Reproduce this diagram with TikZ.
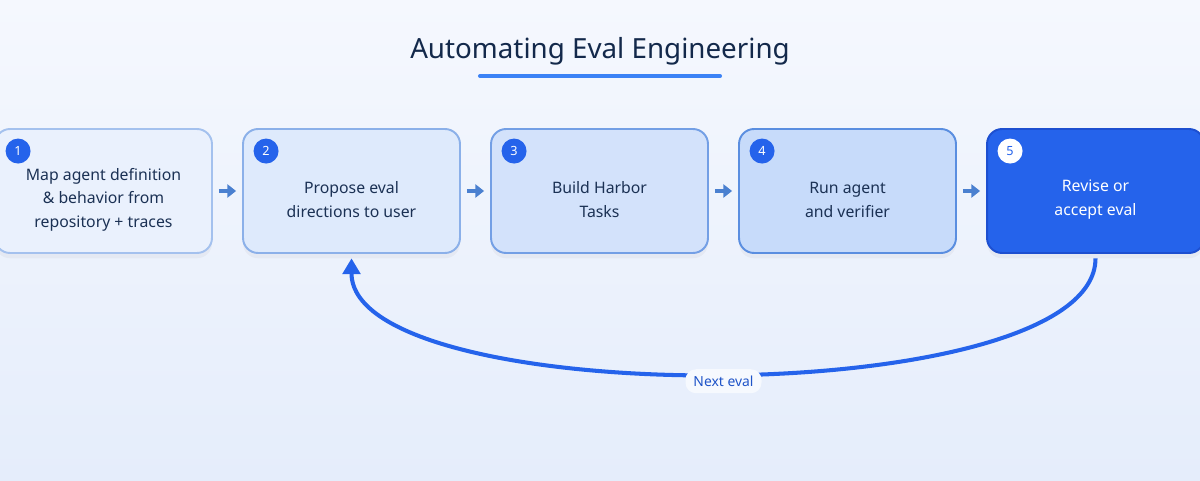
\documentclass[tikz,border=0pt]{standalone}
\usepackage{fontspec}
\setmainfont{Noto Sans}
\usetikzlibrary{calc,shadows,arrows.meta}

\definecolor{bgtop}{HTML}{F5F8FE}
\definecolor{bgbot}{HTML}{E5EDFB}
\definecolor{titleink}{HTML}{13294B}
\definecolor{inkdark}{HTML}{1B3154}
\definecolor{accent}{HTML}{2563EB}
\definecolor{accentdark}{HTML}{1D4FD0}
\definecolor{underline}{HTML}{3B82F6}
\definecolor{paleblue}{HTML}{BBD3F9}
\definecolor{edgeblue}{HTML}{5A8EE0}
\definecolor{linkblue}{HTML}{4A80D0}

\begin{document}
\begin{tikzpicture}[x=0.02cm,y=-0.02cm,
    stepbox/.style={draw, line width=1.1pt, rounded corners=0.3cm,
        minimum width=4.34cm, minimum height=2.48cm,
        drop shadow={opacity=0.07,shadow xshift=0pt,shadow yshift=-3pt}},
    steptext/.style={align=center, font=\fontsize{9.0}{13.6}\selectfont},
    badge/.style={circle, inner sep=0pt, minimum size=0.5cm, font=\fontsize{7.2}{7.2}\selectfont},
    linkarrow/.style={-{Triangle[length=5pt,width=7.5pt]}, line width=2.6pt, linkblue, shorten <=3.4pt, shorten >=3.4pt},
    looparrow/.style={-{Triangle[length=9pt,width=10pt]}, line width=2.3pt, accent, shorten <=2.5pt, shorten >=2.5pt}]
    % background and frame
    \shade[top color=bgtop, bottom color=bgbot] (0,0) rectangle (1200,480);
    \useasboundingbox (0,0) rectangle (1200,480);

    \node[font=\fontsize{15.8}{19}\selectfont, text=titleink] (title) at (600,51) {Automating Eval Engineering};
    \coordinate (ulineL) at (480,76);
    \coordinate (ulineR) at (720,76);
    \draw[underline, line width=2.3pt, line cap=round] (ulineL) -- (ulineR);

    \foreach \txt[count=\i] in {{Map agent definition\\ \& behavior from\\ repository + traces},
                               {Propose eval\\ directions to user},
                               {Build Harbor\\ Tasks},
                               {Run agent\\ and verifier},
                               {Revise or\\ accept eval}}{
        \pgfmathsetmacro\colper{14+17*\i} % fill percentage
        \pgfmathsetmacro\edgeper{40+15*\i} % border percentage
        \pgfmathsetmacro\xpos{103.5+248*(\i-1)}
        \ifnum\i=5
            \node[stepbox, fill=accent, draw=accentdark,
                  label={[steptext, text=white, yshift=-5pt]center:\txt}] (step\i) at (\xpos,191) {};
            \node[badge, fill=white, text=accent] (badge\i) at ($(step\i.north west)+(24,23)$) {\i};
        \else
            \node[stepbox, fill=paleblue!\colper!white, draw=edgeblue!\edgeper!white,
                  label={[steptext, text=inkdark, yshift=-5pt]center:\txt}] (step\i) at (\xpos,191) {};
            \node[badge, fill=accent, text=white] (badge\i) at ($(step\i.north west)+(24,23)$) {\i};
        \fi
        \ifnum\i>1
            \pgfmathtruncatemacro\imin{\i-1}
            \draw[linkarrow] (step\imin) -- (step\i);
        \fi
    }

    % feedback loop
    \draw[looparrow] (step5.south) .. controls +(0,158) and +(0,158) .. (step2.south)
        node[pos=0.5, yshift=-5pt, fill=white!65!bgbot, rounded corners=6pt,
             minimum width=1.52cm, minimum height=0.48cm, inner sep=2pt,
             text=accent!85!black, font=\fontsize{7.9}{9}\selectfont] (nextlbl) {Next eval};
\end{tikzpicture}
\end{document}
